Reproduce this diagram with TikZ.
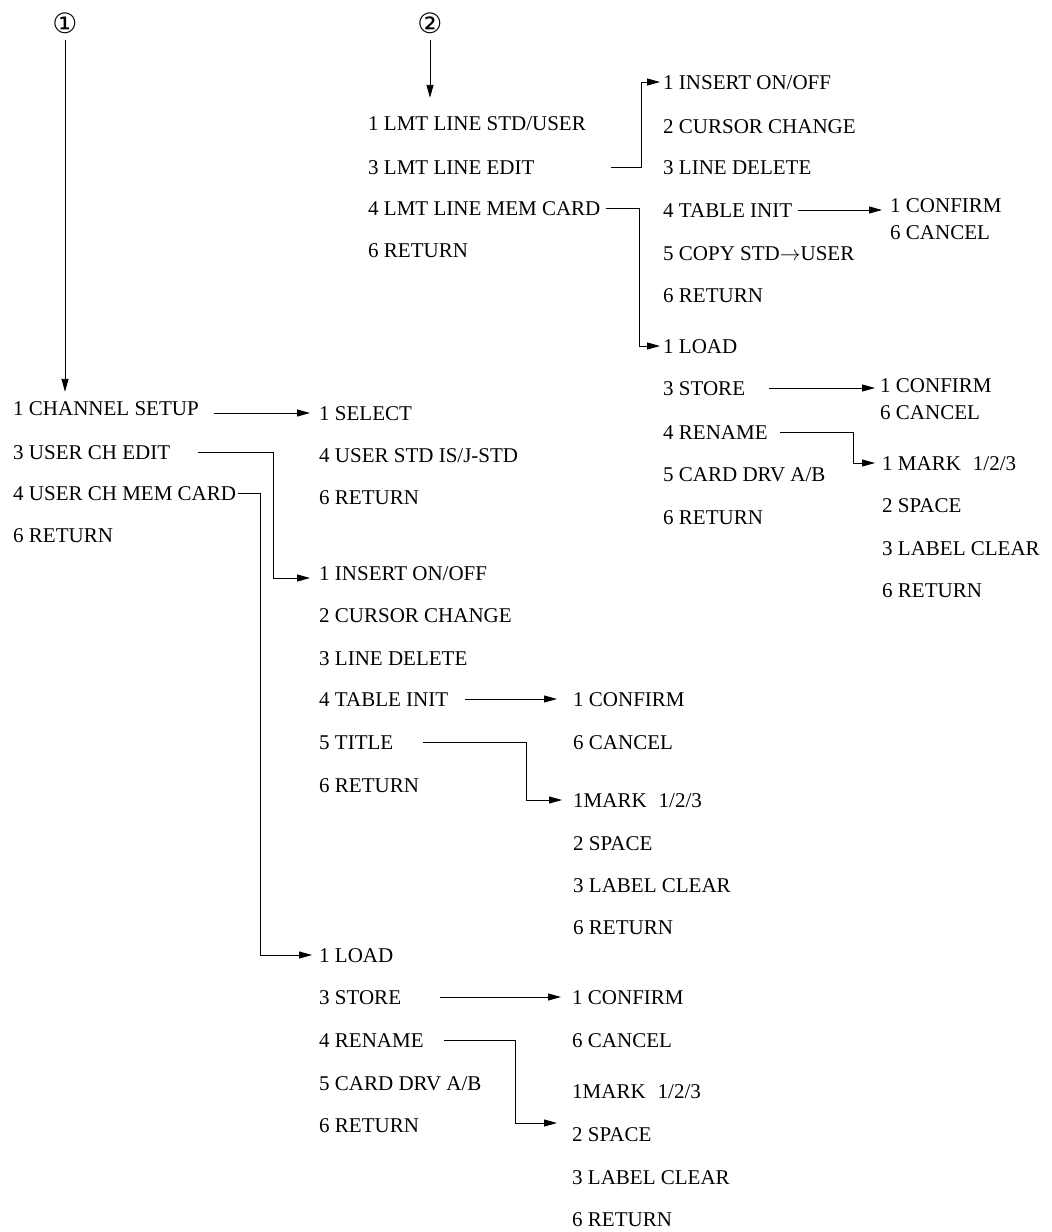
\documentclass[tikz,border=0pt]{standalone}
\usepackage{fontspec}
\setmainfont{Liberation Serif}
\newfontfamily\circfont{DejaVu Sans}
\usetikzlibrary{arrows.meta}

\begin{document}
\begin{tikzpicture}[x=1pt,y=-1pt,
    item/.style={anchor=west,inner sep=0pt,text height=14pt,text depth=0pt,
      font=\fontsize{21}{25}\selectfont},
    num/.style={inner sep=1pt,font=\circfont\fontsize{28}{32}\selectfont},
    link/.style={line width=0.9pt,-{Triangle[length=13pt,width=7pt]}}]
  \useasboundingbox (0,0) rectangle (1052,1232);
  \draw
    (65,23) node[num] (s1){①}
    (430,23) node[num] (s2){②};
  % menu 1
  \draw[every node/.style={item}]
    (13,408) node (chset){1 CHANNEL SETUP}
    (13,452) node (chedit){3 USER CH EDIT}
    (13,493) node (chcard){4 USER CH MEM CARD}
    (13,535) node (chret){6 RETURN}
    (319,413) node (select){1 SELECT}
    (319,455) node (usrstd){4 USER STD IS/J-STD}
    (319,497) node (selret){6 RETURN}
    (319,573) node (insert){1 INSERT ON/OFF}
    (319,615) node (cursor){2 CURSOR CHANGE}
    (319,658) node (delete){3 LINE DELETE}
    (319,699) node (tinit){4 TABLE INIT}
    (319,742) node (title){5 TITLE}
    (319,785) node (editret){6 RETURN}
    (319,955) node (load){1 LOAD}
    (319,997) node (store){3 STORE}
    (319,1040) node (rename){4 RENAME}
    (319,1083) node (drive){5 CARD DRV A/B}
    (319,1125) node (cardret){6 RETURN}
    (573,699) node (confirm){1 CONFIRM}
    (573,742) node (cancel){6 CANCEL}
    (573,800) node (mark){1MARK\hspace{12pt}1/2/3}
    (573,843) node (space){2 SPACE}
    (573,885) node (clear){3 LABEL CLEAR}
    (573,927) node (markret){6 RETURN}
    (572,997) node (confirmb){1 CONFIRM}
    (572,1040) node (cancelb){6 CANCEL}
    (572,1091) node (markb){1MARK\hspace{12pt}1/2/3}
    (572,1134) node (spaceb){2 SPACE}
    (572,1177) node (clearb){3 LABEL CLEAR}
    (572,1219) node (markretb){6 RETURN};
  % menu 2
  \draw[every node/.style={item}]
    (368,123) node (lmtstd){1 LMT LINE STD/USER}
    (368,167) node (lmtedit){3 LMT LINE EDIT}
    (368,208) node (lmtcard){4 LMT LINE MEM CARD}
    (368,250) node (lmtret){6 RETURN}
    (663,82) node (linsert){1 INSERT ON/OFF}
    (663,126) node (lcursor){2 CURSOR CHANGE}
    (663,167) node (ldelete){3 LINE DELETE}
    (663,210) node (ltinit){4 TABLE INIT}
    (663,253) node (lcopy){5 COPY STD$\rightarrow$USER}
    (663,295) node (lret){6 RETURN}
    (663,346) node (lload){1 LOAD}
    (663,388) node (lstore){3 STORE}
    (663,432) node (lrename){4 RENAME}
    (663,474) node (ldrive){5 CARD DRV A/B}
    (663,517) node (lcardret){6 RETURN}
    (890,205) node (lconfirm){1 CONFIRM}
    (890,232) node (lcancel){6 CANCEL}
    (880,385) node (lconfirmb){1 CONFIRM}
    (880,412) node (lcancelb){6 CANCEL}
    (882,463) node (lmark){1 MARK\hspace{12pt}1/2/3}
    (882,505) node (lspace){2 SPACE}
    (882,548) node (lclear){3 LABEL CLEAR}
    (882,590) node (lmarkret){6 RETURN};
  \begin{scope}[link]
    \draw[shorten <=5pt,shorten >=9pt] (s1.south) -- (s1.south |- chset.north);
    \draw[shorten <=5pt,shorten >=18pt] (s2.south) -- (s2.south |- lmtstd.north);
    \draw ([xshift=15]chset.east |- select.west) -- ([xshift=-9]select.west);
    \draw ([xshift=28]chedit.east) -- ++(75,0) |- ([xshift=-9,yshift=-5]insert.west);
    \draw ([xshift=2]chcard.east) -- ++(22,0) |- ([xshift=-7]load.west);
    \draw ([xshift=17]tinit.east) -- ([xshift=-16]confirm.west);
    \draw ([xshift=30]title.east) -- ++(103,0) |- ([xshift=-11]mark.west);
    \draw ([xshift=39]store.east) -- ([xshift=-11]confirmb.west);
    \draw ([xshift=20]rename.east) -- ++(72,0) |- ([xshift=-15,yshift=11]spaceb.west);
    \draw ([xshift=76]lmtedit.east) -- ++(31,0) |- ([xshift=-3]linsert.west);
    \draw ([xshift=5]lmtcard.east) -- ++(34,0) |- ([xshift=-3]lload.west);
    \draw ([xshift=6]ltinit.east) -- ([xshift=-8]lconfirm.west |- ltinit.east);
    \draw ([xshift=24]lstore.east) -- ([xshift=-5]lconfirmb.west |- lstore.east);
    \draw ([xshift=12]lrename.east) -- ++(74,0) |- ([xshift=-7]lmark.west);
  \end{scope}
\end{tikzpicture}
\end{document}
